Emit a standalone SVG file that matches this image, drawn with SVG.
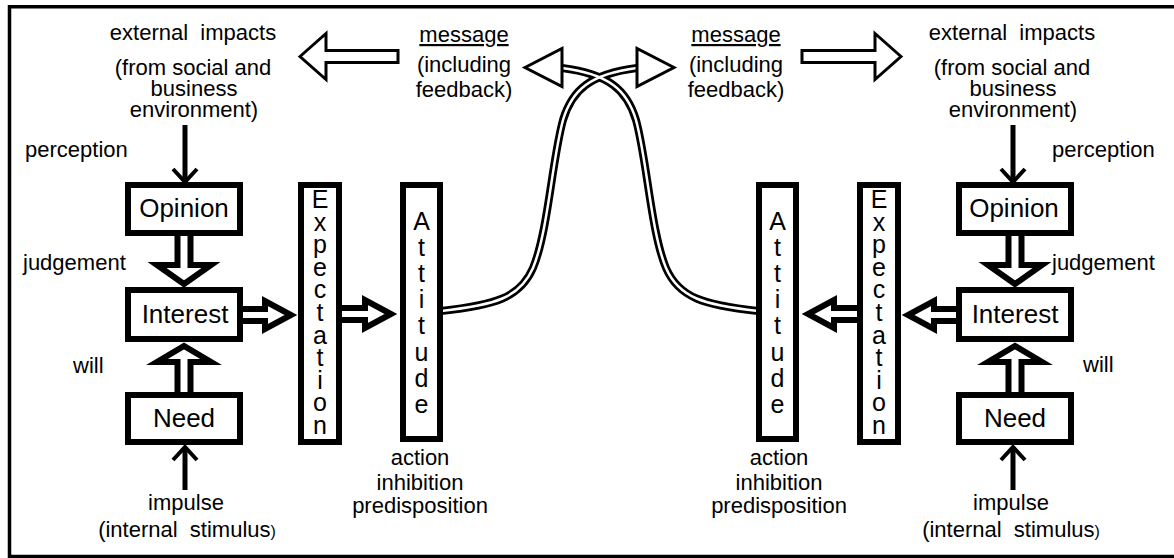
<svg xmlns="http://www.w3.org/2000/svg" width="1174" height="558" viewBox="0 0 1174 558">
  <style>
    text { font-family: "Liberation Sans", Arial, sans-serif; fill: #000; }
    .lbl { font-size: 22px; }
    .mid { text-anchor: middle; }
    .box-t { font-size: 26px; text-anchor: middle; }
    .vt { font-size: 25px; writing-mode: vertical-rl; text-orientation: upright; }
    .vt-e { letter-spacing: -5.4px; }
    .vt-a { letter-spacing: -1.8px; }
    .box { fill: #fff; stroke: #000; stroke-width: 6; }
    .blk { fill: #fff; stroke: #000; stroke-width: 6; stroke-linejoin: miter; stroke-miterlimit: 10; }
    .hollow { fill: #fff; stroke: #000; stroke-width: 3; stroke-linejoin: miter; stroke-miterlimit: 10; }
    .thin { fill: none; stroke: #000; stroke-width: 5; }
    .wire-o { fill: none; stroke: #000; stroke-width: 8; }
    .wire-i { fill: none; stroke: #fff; stroke-width: 2.5; }
    .frame { fill: none; stroke: #000; stroke-width: 3.5; }
  </style>
  <defs>
    <marker id="chev" markerUnits="userSpaceOnUse" viewBox="-4 -16 22 32" refX="14" refY="0" markerWidth="22" markerHeight="32" orient="auto">
      <path d="M1,-12 L14,0 L1,12" fill="none" stroke="#000" stroke-width="4"/>
    </marker>
    <path id="wa" d="M441,311 C495,305 520,298 533,268 C548,232 552,160 563,120 C572,90 590,74 637,68"/>
    <path id="wb" d="M758,311 C704,305 679,298 666,268 C651,232 647,160 636,120 C627,90 609,74 562,68"/>
  </defs>

  <rect width="1174" height="558" fill="#fff"/>
  <!-- open frame: top, left and bottom edges -->
  <path class="frame" d="M1174,6.75 H9.5 V556.5 H1174"/>

  <!-- connectors -->
  <g id="connectors">
    <!-- perception / impulse arrows -->
    <line class="thin" x1="185" y1="125" x2="185" y2="182" marker-end="url(#chev)"/>
    <line class="thin" x1="185" y1="490" x2="185" y2="447" marker-end="url(#chev)"/>
    <line class="thin" x1="1013" y1="125" x2="1013" y2="182" marker-end="url(#chev)"/>
    <line class="thin" x1="1013" y1="490" x2="1013" y2="447" marker-end="url(#chev)"/>

    <!-- block arrows, left person -->
    <polygon class="blk" points="177.5,233 177.5,265 157,265 184,284 211,265 190.5,265 190.5,233"/>
    <polygon class="blk" points="177.5,395 177.5,362 157,362 184,346 211,362 190.5,362 190.5,395"/>
    <polygon class="blk" points="240,309 265,309 265,301 291,315 265,329 265,321 240,321"/>
    <polygon class="blk" points="339,308 365,308 365,300 391,314 365,328 365,320 339,320"/>

    <!-- block arrows, right person -->
    <polygon class="blk" points="1008.5,233 1008.5,265 988,265 1015,284 1042,265 1021.5,265 1021.5,233"/>
    <polygon class="blk" points="1008.5,395 1008.5,362 988,362 1015,346 1042,362 1021.5,362 1021.5,395"/>
    <polygon class="blk" points="959,309 934,309 934,301 908,315 934,329 934,321 959,321"/>
    <polygon class="blk" points="860,308 834,308 834,300 808,314 834,328 834,320 860,320"/>

    <!-- crossing message channels (double lines) -->
    <use href="#wa" class="wire-o"/>
    <use href="#wb" class="wire-o"/>
    <use href="#wa" class="wire-i"/>
    <use href="#wb" class="wire-i"/>

    <!-- message heads -->
    <polygon class="hollow" points="525,67.5 562,48.5 562,86.5"/>
    <polygon class="hollow" points="674,67.5 637,48.5 637,86.5"/>

    <!-- outward arrows to the environment -->
    <polygon class="hollow" points="300,56.5 326,33.5 326,50.5 398,50.5 398,62.5 326,62.5 326,79.5"/>
    <polygon class="hollow" points="901,56.5 875,33.5 875,50.5 802,50.5 802,62.5 875,62.5 875,79.5"/>
  </g>

  <!-- left person -->
  <g id="opinion-left">
    <rect class="box" x="128" y="185" width="112" height="48"/>
    <text class="box-t" x="184" y="217">Opinion</text>
  </g>
  <g id="interest-left">
    <rect class="box" x="128" y="290" width="112" height="49"/>
    <text class="box-t" x="185" y="323">Interest</text>
  </g>
  <g id="need-left">
    <rect class="box" x="128" y="395" width="112" height="47"/>
    <text class="box-t" x="184" y="427">Need</text>
  </g>
  <g id="expectation-left">
    <rect class="box" x="301" y="185" width="38" height="257"/>
    <text class="vt vt-e" x="320" y="185">Expectation</text>
  </g>
  <g id="attitude-left">
    <rect class="box" x="403" y="185" width="37" height="254"/>
    <text class="vt vt-a" x="421.5" y="206.5">Attitude</text>
  </g>

  <!-- right person -->
  <g id="opinion-right">
    <rect class="box" x="959" y="185" width="112" height="48"/>
    <text class="box-t" x="1014" y="217">Opinion</text>
  </g>
  <g id="interest-right">
    <rect class="box" x="959" y="290" width="112" height="49"/>
    <text class="box-t" x="1015" y="323">Interest</text>
  </g>
  <g id="need-right">
    <rect class="box" x="959" y="395" width="112" height="47"/>
    <text class="box-t" x="1015" y="427">Need</text>
  </g>
  <g id="expectation-right">
    <rect class="box" x="860" y="185" width="38" height="257"/>
    <text class="vt vt-e" x="879" y="185">Expectation</text>
  </g>
  <g id="attitude-right">
    <rect class="box" x="759" y="185" width="37" height="254"/>
    <text class="vt vt-a" x="777.5" y="206.5">Attitude</text>
  </g>

  <!-- labels, left -->
  <g id="labels-left" class="lbl">
    <text class="mid" x="193" y="40" xml:space="preserve">external  impacts</text>
    <text class="mid" x="193" y="75">(from social and</text>
    <text class="mid" x="194" y="96">business</text>
    <text class="mid" x="194" y="117">environment)</text>
    <text x="25" y="157">perception</text>
    <text x="23" y="270">judgement</text>
    <text x="73" y="373">will</text>
    <text class="mid" x="186" y="510">impulse</text>
    <text class="mid" x="187" y="537" xml:space="preserve">(internal  stimulus<tspan font-size="16">)</tspan></text>
    <text class="mid" x="420" y="465">action</text>
    <text class="mid" x="420" y="490">inhibition</text>
    <text class="mid" x="420" y="513">predisposition</text>
    <text class="mid" x="464" y="42" text-decoration="underline">message</text>
    <text class="mid" x="464" y="72">(including</text>
    <text class="mid" x="464" y="97">feedback)</text>
  </g>

  <!-- labels, right -->
  <g id="labels-right" class="lbl">
    <text class="mid" x="1012" y="40" xml:space="preserve">external  impacts</text>
    <text class="mid" x="1012" y="75">(from social and</text>
    <text class="mid" x="1013" y="96">business</text>
    <text class="mid" x="1013" y="117">environment)</text>
    <text x="1052" y="157">perception</text>
    <text x="1052" y="270">judgement</text>
    <text x="1083" y="372">will</text>
    <text class="mid" x="1011" y="510">impulse</text>
    <text class="mid" x="1011" y="537" xml:space="preserve">(internal  stimulus<tspan font-size="16">)</tspan></text>
    <text class="mid" x="779" y="465">action</text>
    <text class="mid" x="779" y="490">inhibition</text>
    <text class="mid" x="779" y="513">predisposition</text>
    <text class="mid" x="736" y="42" text-decoration="underline">message</text>
    <text class="mid" x="736" y="72">(including</text>
    <text class="mid" x="736" y="97">feedback)</text>
  </g>
</svg>
